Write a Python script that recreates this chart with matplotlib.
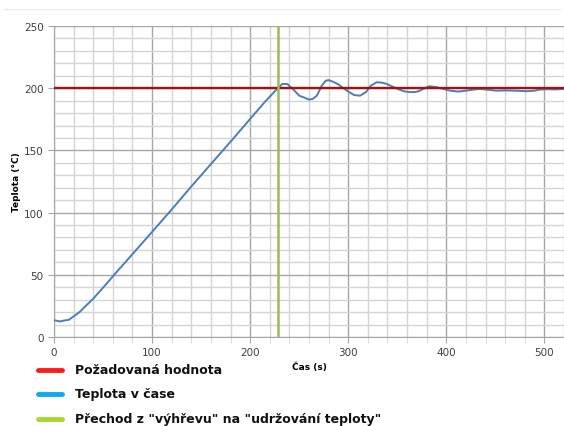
from matplotlib import pyplot as plt
from matplotlib.lines import Line2D
from matplotlib.ticker import MultipleLocator

# Temperature readings (s, degC)
cas = [0, 3, 6, 10, 15, 19, 26, 33, 40, 54, 62, 80, 100, 120, 140, 160, 180, 200,
       215, 224, 228, 233, 238, 244, 250, 255, 260, 264, 268, 273, 277, 280,
       285, 290, 296, 301, 306, 312, 318, 323, 329, 334, 339, 346, 352, 358,
       364, 369, 373, 378, 383, 390, 397, 404, 412, 420, 427, 434, 442, 451,
       460, 470, 482, 490, 495, 505, 512, 519]
teplota = [13.5, 13.0, 12.5, 13.2, 13.8, 16.0, 20.0, 25.5, 30.8, 43.2, 50.6, 66.6,
           84.5, 102.5, 121.0, 139.0, 157.0, 175.3, 189.0, 196.5, 200.0, 203.5,
           203.3, 199.0, 194.0, 192.5, 190.8, 191.5, 194.0, 202.0, 206.0, 206.5,
           205.0, 203.0, 199.5, 196.8, 194.5, 194.0, 196.8, 202.0, 204.8, 204.5,
           203.5, 201.0, 198.9, 197.3, 196.8, 197.0, 198.0, 200.0, 201.6, 200.8,
           199.4, 198.0, 197.3, 198.0, 198.8, 199.4, 198.8, 198.0, 198.2, 198.0,
           197.6, 198.0, 198.9, 199.2, 199.0, 199.4]
pozadovana = 200
prechod = 228

polozky = ['Požadovaná hodnota', 'Teplota v čase', 'Přechod z "výhřevu" na "udržování teploty"']
barvy_legendy = ['#ff1a1a', '#10a8f0', '#a8d830']

fig = plt.figure(figsize=(5.64, 4.27), dpi=100)
ax = fig.add_axes([54 / 564, 1 - 338 / 427, 1 - 54 / 564, 311 / 427])

ax.set_xlim(0, 520)
ax.set_ylim(0, 250)
ax.xaxis.set_major_locator(MultipleLocator(100))
ax.xaxis.set_minor_locator(MultipleLocator(20))
ax.yaxis.set_major_locator(MultipleLocator(50))
ax.yaxis.set_minor_locator(MultipleLocator(10))
ax.grid(which='major', color='#a6a6a6', linewidth=1.0)
ax.grid(which='minor', color='#d4d4d4', linewidth=1.0)
ax.set_axisbelow(True)

for s in ['top', 'right']:
    ax.spines[s].set_visible(False)
for s in ['left', 'bottom']:
    ax.spines[s].set_color('#a6a6a6')

ax.tick_params(which='major', length=4, color='#a6a6a6', labelsize=7.5, labelcolor='#404040')
ax.tick_params(axis='x', which='minor', length=4, color='#d4d4d4')
ax.tick_params(axis='y', which='minor', length=0)

ax.plot(cas, teplota, color='#4a7ebb', linewidth=1.4, zorder=3)
ax.axhline(pozadovana, color='#a81010', linewidth=1.7, zorder=4)
ax.axvline(prechod, color='#9bbb59', linewidth=1.8, zorder=4)

ax.set_xlabel('Čas (s)', fontsize=6.5, fontweight='bold', labelpad=3)
ax.set_ylabel('Teplota (°C)', fontsize=6.5, fontweight='bold', labelpad=2)

# faint screenshot line on top
fig.add_artist(Line2D([4 / 564, 560 / 564], [1 - 10 / 427] * 2, color='#ececec', linewidth=1))

# legend drawn below the chart
radky = [371, 395, 420]
for text, barva, y in zip(polozky, barvy_legendy, radky):
    yf = 1 - y / 427
    fig.add_artist(Line2D([38 / 564, 62 / 564], [yf, yf], color=barva, linewidth=3.5,
                          solid_capstyle='round'))
    fig.text(75 / 564, yf, text, fontsize=9, fontweight='bold', va='center', color='#111111')

fig.savefig('out.png', dpi=100)
